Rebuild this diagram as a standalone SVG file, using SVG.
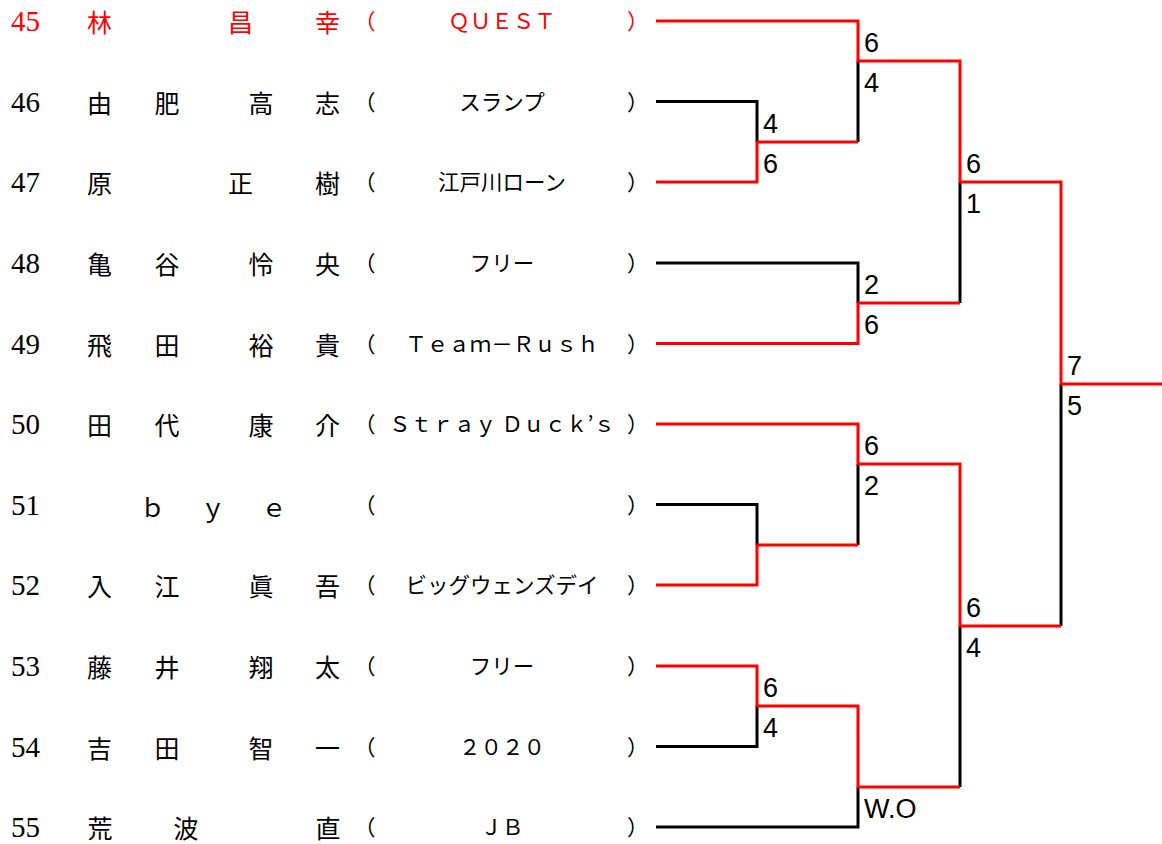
<svg xmlns="http://www.w3.org/2000/svg" width="1162" height="844" viewBox="0 0 1162 844">
<style>
.num{font-family:"Liberation Serif",serif;font-size:29px;fill:#000}
.nm{font-family:"Noto Sans CJK JP",sans-serif;font-size:25px;text-anchor:middle;fill:#000}
.tm{font-family:"Noto Sans CJK JP",sans-serif;font-size:21.5px;text-anchor:middle;fill:#000}
.pa{font-family:"Noto Sans CJK JP",sans-serif;font-size:21.5px;fill:#000}
.sc{font-family:"Liberation Sans",Arial,sans-serif;font-size:27px;fill:#000}
.red text,.red{fill:#ff0000}
.k{fill:none;stroke:#000;stroke-width:3}
.w{fill:none;stroke:#ff0000;stroke-width:3}
</style>
<rect width="1162" height="844" fill="#fff"/>
<g id="p45" class="red">
<text class="num" x="11" y="31">45</text>
<text class="nm" x="99.5 240.5 327.5" y="32">林昌幸</text>
<text class="pa" x="354" y="29">（</text><text class="tm" x="502" y="29">ＱＵＥＳＴ</text><text class="pa" x="627" y="29">）</text>
</g>
<g id="p46">
<text class="num" x="11" y="111.5">46</text>
<text class="nm" x="99.5 167 261 327.5" y="112.5">由肥高志</text>
<text class="pa" x="354" y="109.5">（</text><text class="tm" x="502" y="109.5">スランプ</text><text class="pa" x="627" y="109.5">）</text>
</g>
<g id="p47">
<text class="num" x="11" y="192">47</text>
<text class="nm" x="99.5 240.5 327.5" y="193">原正樹</text>
<text class="pa" x="354" y="190">（</text><text class="tm" x="502" y="190">江戸川ローン</text><text class="pa" x="627" y="190">）</text>
</g>
<g id="p48">
<text class="num" x="11" y="273">48</text>
<text class="nm" x="99.5 167 261 327.5" y="274">亀谷怜央</text>
<text class="pa" x="354" y="271">（</text><text class="tm" x="502" y="271">フリー</text><text class="pa" x="627" y="271">）</text>
</g>
<g id="p49">
<text class="num" x="11" y="353.5">49</text>
<text class="nm" x="99.5 167 261 327.5" y="354.5">飛田裕貴</text>
<text class="pa" x="354" y="351.5">（</text><text class="tm" x="502" y="351.5">Ｔｅａｍ－Ｒｕｓｈ</text><text class="pa" x="627" y="351.5">）</text>
</g>
<g id="p50">
<text class="num" x="11" y="434">50</text>
<text class="nm" x="99.5 167 261 327.5" y="435">田代康介</text>
<text class="pa" x="354" y="432">（</text><text class="tm" x="502" y="432">Ｓｔｒａｙ Ｄｕｃｋ’ｓ</text><text class="pa" x="627" y="432">）</text>
</g>
<g id="p51">
<text class="num" x="11" y="514.5">51</text>
<text class="nm" x="152.5 213 274" y="516.5">ｂｙｅ</text>
<text class="pa" x="354" y="512.5">（</text><text class="pa" x="627" y="512.5">）</text>
</g>
<g id="p52">
<text class="num" x="11" y="595">52</text>
<text class="nm" x="99.5 167 261 327.5" y="596">入江眞吾</text>
<text class="pa" x="354" y="593">（</text><text class="tm" x="502" y="593">ビッグウェンズデイ</text><text class="pa" x="627" y="593">）</text>
</g>
<g id="p53">
<text class="num" x="11" y="676">53</text>
<text class="nm" x="99.5 167 261 327.5" y="677">藤井翔太</text>
<text class="pa" x="354" y="674">（</text><text class="tm" x="502" y="674">フリー</text><text class="pa" x="627" y="674">）</text>
</g>
<g id="p54">
<text class="num" x="11" y="756.5">54</text>
<text class="nm" x="99.5 167 261 327.5" y="757.5">吉田智一</text>
<text class="pa" x="354" y="754.5">（</text><text class="tm" x="502" y="754.5">２０２０</text><text class="pa" x="627" y="754.5">）</text>
</g>
<g id="p55">
<text class="num" x="11" y="837">55</text>
<text class="nm" x="100 186 328" y="838">荒波直</text>
<text class="pa" x="354" y="835">（</text><text class="tm" x="502" y="835">ＪＢ</text><text class="pa" x="627" y="835">）</text>
</g>
<g id="connectors">
<path class="k" d="M656 101.5H757V142"/>
<path class="k" d="M656 263H858V303"/>
<path class="k" d="M656 504.5H757V545"/>
<path class="k" d="M656 746.5H757V706"/>
<path class="k" d="M656 827H858V787"/>
<path class="k" d="M858 142V61"/>
<path class="k" d="M960 303V182"/>
<path class="k" d="M858 545V464"/>
<path class="k" d="M960 787V626"/>
<path class="k" d="M1061 626V384"/>
<path class="w" d="M656 21H858V61H960V182H1061V384H1162"/>
<path class="w" d="M656 182H757V142H858"/>
<path class="w" d="M656 343.5H858V303H960"/>
<path class="w" d="M656 424H858V464H960V626H1061"/>
<path class="w" d="M656 585H757V545H858"/>
<path class="w" d="M656 666H757V706H858V787H960"/>
</g>
<g id="scores">
<text class="sc" x="763" y="133">4</text><text class="sc" x="763" y="173">6</text>
<text class="sc" x="864" y="52">6</text><text class="sc" x="864" y="92">4</text>
<text class="sc" x="864" y="294">2</text><text class="sc" x="864" y="334">6</text>
<text class="sc" x="966" y="173">6</text><text class="sc" x="966" y="213">1</text>
<text class="sc" x="864" y="455">6</text><text class="sc" x="864" y="495">2</text>
<text class="sc" x="763" y="697">6</text><text class="sc" x="763" y="737">4</text>
<text class="sc" x="864" y="818">W.O</text>
<text class="sc" x="966" y="617">6</text><text class="sc" x="966" y="657">4</text>
<text class="sc" x="1067" y="375">7</text><text class="sc" x="1067" y="415">5</text>
</g>
</svg>
